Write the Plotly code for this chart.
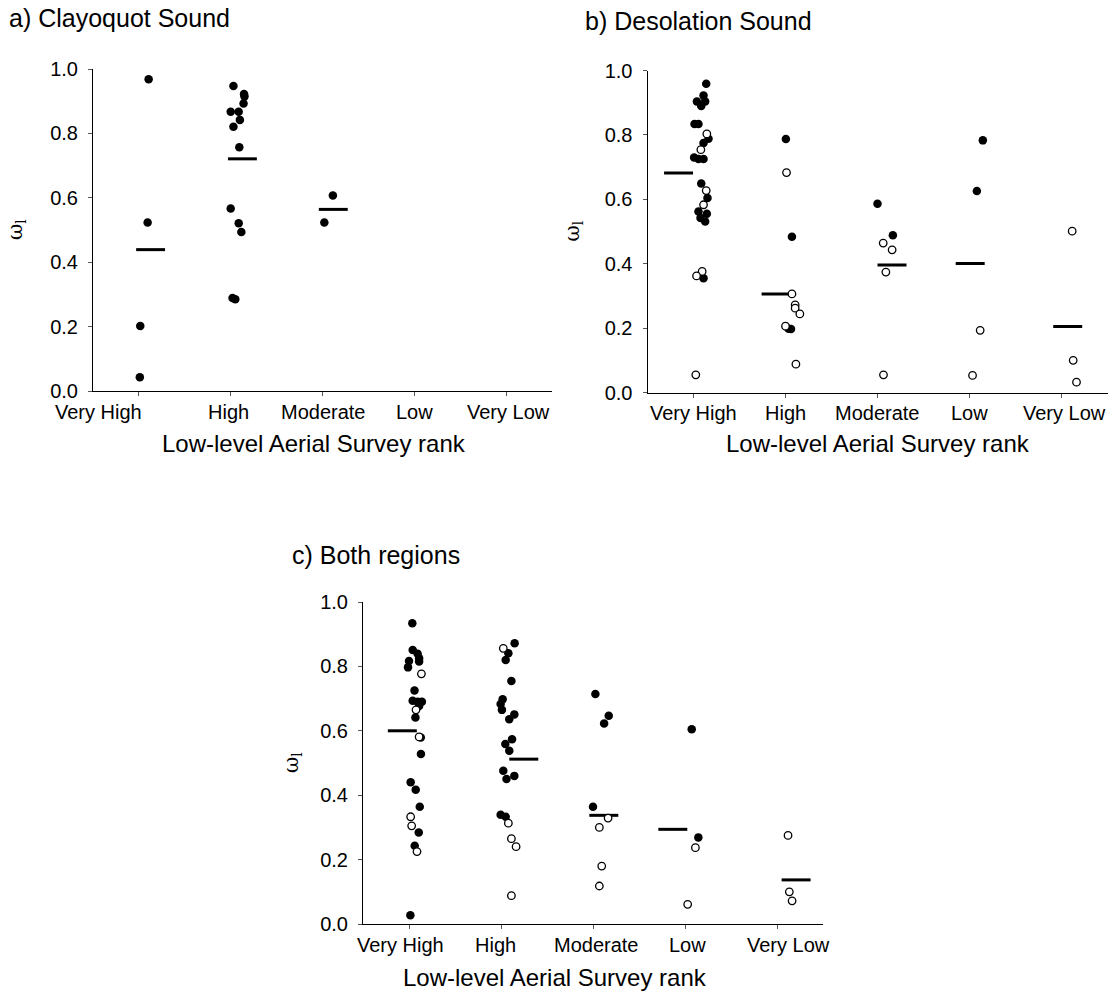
import plotly.graph_objects as go

categories = ["Very High", "High", "Moderate", "Low", "Very Low"]
y_ticks = [0.0, 0.2, 0.4, 0.6, 0.8, 1.0]

# a) Clayoquot Sound: rank index, horizontal jitter, omega_l, filled (1) / open (0)
a_rank = [0, 0, 0, 0,
          1, 1, 1, 1, 1, 1, 1, 1, 1, 1, 1, 1, 1, 1,
          2, 2]
a_jitter = [0.106, 0.095, 0.015, 0.010,
            0.030, 0.145, 0.150, 0.140, 0.000, 0.087, 0.100, 0.030, 0.094, 0.000, 0.087, 0.116, 0.020, 0.050,
            0.113, 0.020]
a_omega = [0.968, 0.523, 0.202, 0.043,
           0.947, 0.922, 0.915, 0.893, 0.867, 0.867, 0.842, 0.821, 0.757, 0.567, 0.521, 0.494, 0.289, 0.285,
           0.607, 0.523]
a_filled = [1] * 20
a_mean = [0.439, 0.721, 0.564, None, None]
a_bar_start = [-0.03, -0.03, -0.04, 0.0, 0.0]

# b) Desolation Sound
b_rank = [0] * 26 + [1] * 11 + [2] * 6 + [3] * 4 + [4] * 3
b_jitter = [0.138, 0.109, 0.037, 0.127, 0.084, 0.011, 0.054, 0.163, 0.109, 0.007, 0.054, 0.109, 0.084,
            0.152, 0.054, 0.145, 0.076, 0.127, 0.109,
            0.145, 0.080, 0.138, 0.109, 0.094, 0.033, 0.025,
            0.004, 0.070, 0.033, 0.060,
            0.000, 0.011, 0.070, 0.105, 0.105, 0.156, 0.113,
            0.000, 0.167,
            0.062, 0.159, 0.091, 0.065,
            0.145, 0.080,
            0.116, 0.033,
            0.116, 0.127, 0.163]
b_omega = [0.959, 0.922, 0.904, 0.904, 0.890, 0.834, 0.834, 0.788, 0.775, 0.730, 0.725, 0.725, 0.649,
           0.604, 0.562, 0.555, 0.542, 0.531, 0.355,
           0.803, 0.754, 0.627, 0.583, 0.376, 0.362, 0.055,
           0.787, 0.484, 0.198, 0.197,
           0.206, 0.683, 0.306, 0.272, 0.262, 0.244, 0.088,
           0.586, 0.488,
           0.464, 0.443, 0.374, 0.055,
           0.783, 0.626,
           0.193, 0.053,
           0.501, 0.100, 0.032]
b_filled = ([1] * 19 + [0] * 7 +
            [1] * 4 + [0] * 7 +
            [1] * 2 + [0] * 4 +
            [1] * 2 + [0] * 2 +
            [0] * 3)
b_mean = [0.682, 0.306, 0.396, 0.401, 0.205]
b_bar_start = [-0.32, -0.26, 0.0, -0.15, -0.09]

# c) Both regions
c_rank = [0] * 27 + [1] * 22 + [2] * 8 + [3] * 4 + [4] * 3
c_jitter = [0.036, 0.040, 0.094, 0.110, 0.000, 0.110, -0.011, 0.060, 0.040, 0.094, 0.140, 0.110, 0.070,
            0.128, 0.130, 0.018, 0.073, 0.117, 0.106, 0.062, 0.015,
            0.135, 0.076, 0.110, 0.018, 0.029, 0.087,
            0.148, 0.080, 0.051, 0.113, 0.018, -0.004, 0.010, 0.145, 0.090, 0.120, 0.047, 0.090,
            0.025, 0.145, 0.060, -0.004, 0.051,
            0.025, 0.080, 0.113, 0.164, 0.113,
            0.026, 0.171, 0.121, 0.000,
            0.164, 0.069, 0.095, 0.069,
            0.073, 0.145,
            0.113, 0.029,
            0.120, 0.134, 0.164]
c_omega = [0.934, 0.851, 0.839, 0.825, 0.817, 0.815, 0.797, 0.725, 0.693, 0.690, 0.690, 0.677, 0.641,
           0.579, 0.528, 0.440, 0.417, 0.364, 0.284, 0.243, 0.027,
           0.777, 0.665, 0.581, 0.333, 0.305, 0.225,
           0.872, 0.841, 0.820, 0.755, 0.698, 0.683, 0.665, 0.651, 0.636, 0.574, 0.559, 0.538,
           0.476, 0.460, 0.450, 0.339, 0.333,
           0.856, 0.313, 0.265, 0.240, 0.088,
           0.714, 0.647, 0.623, 0.364,
           0.329, 0.300, 0.180, 0.118,
           0.605, 0.269,
           0.237, 0.061,
           0.275, 0.100, 0.072]
c_filled = ([1] * 21 + [0] * 6 +
            [1] * 17 + [0] * 5 +
            [1] * 4 + [0] * 4 +
            [1] * 2 + [0] * 2 +
            [0] * 3)
c_mean = [0.600, 0.512, 0.3375, 0.294, 0.137]
c_bar_start = [-0.23, 0.09, -0.04, -0.29, 0.05]

panels = [
    ("a) Clayoquot Sound", a_rank, a_jitter, a_omega, a_filled, a_mean, a_bar_start),
    ("b) Desolation Sound", b_rank, b_jitter, b_omega, b_filled, b_mean, b_bar_start),
    ("c) Both regions", c_rank, c_jitter, c_omega, c_filled, c_mean, c_bar_start),
]

W, H = 1120, 999
BAR_WIDTH = 0.315
FONT = "Liberation Sans, Arial, sans-serif"

# plot-area boxes in pixels: left, right, top, bottom
boxes = [(93, 552, 69, 391), (647.5, 1107.5, 70.5, 392.5), (363, 823, 602, 924)]
title_pos = [(7, 18), (583, 21), (290, 555)]
ytitle_x = [16, 572, 292]
xtitle_pos = [(314, 443), (878, 443), (555, 977)]
# horizontal nudges (px) of the category labels under each axis
label_nudge = [[-40, -2, 1, 0, 2], [0, 0, 0, 0, 3], [-9, -6, 3, 2, 11]]
LABEL_DROP = 21


def px_x(p):
    return p / W


def px_y(p):
    return 1 - p / H


fig = go.Figure()
annotations = []

for k, (title, rank, jitter, omega, filled, mean, bar_start) in enumerate(panels):
    n = k + 1
    xa = "x" if n == 1 else f"x{n}"
    ya = "y" if n == 1 else f"y{n}"

    # group means as short horizontal bars
    bx, by = [], []
    for i, m in enumerate(mean):
        if m is None:
            continue
        bx += [i + bar_start[i], i + bar_start[i] + BAR_WIDTH, None]
        by += [m, m, None]
    fig.add_trace(go.Scatter(x=bx, y=by, mode="lines", xaxis=xa, yaxis=ya,
                             line=dict(color="black", width=3), showlegend=False,
                             hoverinfo="skip"))

    for flag in (1, 0):
        xs = [r + j for r, j, f in zip(rank, jitter, filled) if f == flag]
        ys = [v for v, f in zip(omega, filled) if f == flag]
        if not xs:
            continue
        if flag:
            marker = dict(symbol="circle", size=8.5, color="black", line=dict(width=0))
        else:
            marker = dict(symbol="circle", size=7.5, color="white",
                          line=dict(color="black", width=1.3))
        fig.add_trace(go.Scatter(x=xs, y=ys, mode="markers", xaxis=xa, yaxis=ya,
                                 marker=marker, showlegend=False, cliponaxis=False))

    l, r, t, b = boxes[k]
    xkey = "xaxis" if n == 1 else f"xaxis{n}"
    ykey = "yaxis" if n == 1 else f"yaxis{n}"
    fig.layout[xkey] = dict(
        domain=[px_x(l), px_x(r)], anchor=ya, range=[-0.5, 4.5], automargin=False,
        tickmode="array", tickvals=list(range(len(categories))), showticklabels=False,
        showline=True, linecolor="black", linewidth=1, mirror=False,
        ticks="outside", ticklen=4, tickcolor="#555", showgrid=False, zeroline=False,
        fixedrange=True,
    )
    fig.layout[ykey] = dict(
        domain=[px_y(b), px_y(t)], anchor=xa, range=[0, 1], automargin=False,
        tickmode="array", tickvals=y_ticks, ticktext=[f"{v:.1f}" for v in y_ticks],
        showline=True, linecolor="black", linewidth=1,
        ticks="outside", ticklen=4, tickcolor="#555", showgrid=False, zeroline=False,
        tickfont=dict(family=FONT, size=20, color="black"),
        ticklabelstandoff=6,
        fixedrange=True,
    )

    # category labels placed on the x scale of each panel
    for i, cat in enumerate(categories):
        annotations.append(dict(text=cat, x=i, xref=xa, y=px_y(b + LABEL_DROP), yref="paper",
                                xanchor="center", yanchor="middle", xshift=label_nudge[k][i],
                                showarrow=False, font=dict(family=FONT, size=20, color="black")))

    tx, ty = title_pos[k]
    annotations.append(dict(text=title, x=px_x(tx), y=px_y(ty), xref="paper", yref="paper",
                            xanchor="left", yanchor="middle", showarrow=False,
                            font=dict(family=FONT, size=25, color="black")))
    annotations.append(dict(text="ω<sub>l</sub>", x=px_x(ytitle_x[k]), y=px_y((t + b) / 2),
                            xref="paper", yref="paper", xanchor="center", yanchor="middle",
                            textangle=-90, showarrow=False,
                            font=dict(family="DejaVu Serif, serif", size=20, color="black")))
    xt, yt = xtitle_pos[k]
    annotations.append(dict(text="Low-level Aerial Survey rank", x=px_x(xt), y=px_y(yt),
                            xref="paper", yref="paper", xanchor="center", yanchor="middle",
                            showarrow=False,
                            font=dict(family=FONT, size=24, color="black")))

fig.update_layout(
    width=W, height=H, margin=dict(l=0, r=0, t=0, b=0, autoexpand=False),
    paper_bgcolor="white", plot_bgcolor="white",
    annotations=annotations,
    font=dict(family=FONT, color="black"),
)

fig.write_html("out.html", config={"displayModeBar": False})
